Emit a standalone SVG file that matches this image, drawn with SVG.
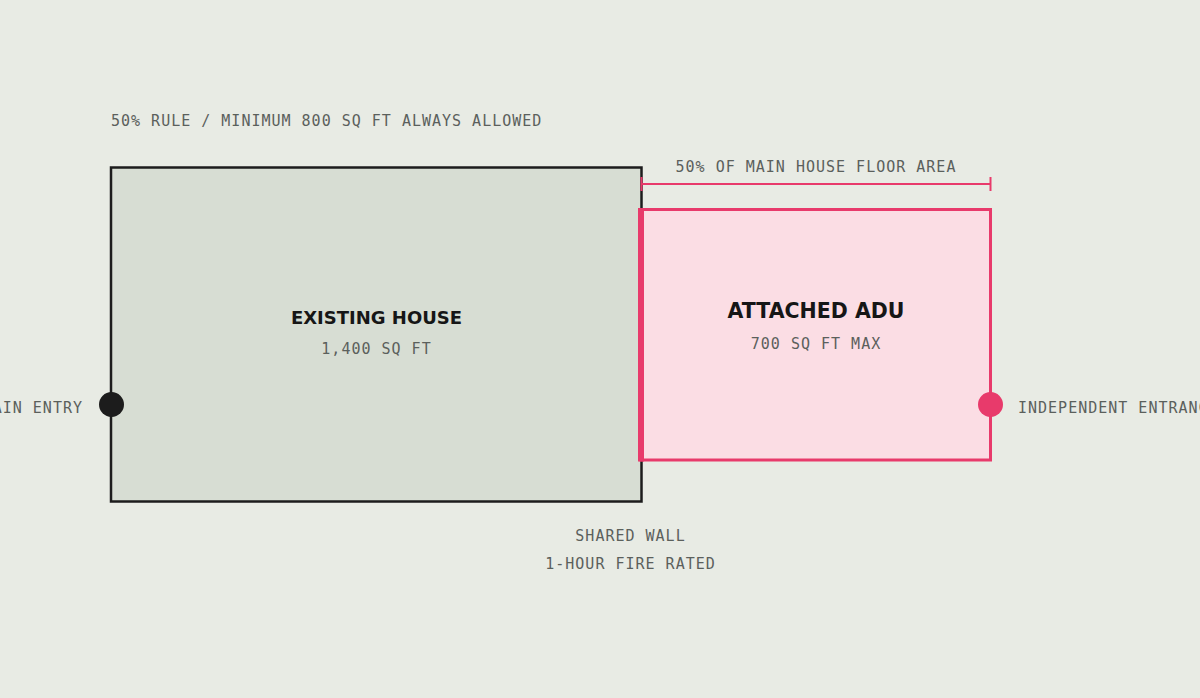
<svg xmlns="http://www.w3.org/2000/svg" width="1200" height="698" viewBox="0 0 1200 698">
<style>
.mono{font-family:"DejaVu Sans Mono","Liberation Mono",monospace;font-size:15px;letter-spacing:1px;fill:#5b605c}
.title{font-family:"DejaVu Sans","Liberation Sans",sans-serif;font-weight:bold;fill:#161616}
</style>
<rect width="1200" height="698" fill="#e8ebe4"/>
<text class="mono" x="111" y="126" letter-spacing="0.97">50% RULE / MINIMUM 800 SQ FT ALWAYS ALLOWED</text>
<g id="house">
<rect x="111" y="167.5" width="530.5" height="334" fill="#d7ddd3" stroke="#1c1c1c" stroke-width="2.5"/>
<text class="title" x="376.5" y="324" font-size="18" text-anchor="middle">EXISTING HOUSE</text>
<text class="mono" x="376.5" y="354" text-anchor="middle">1,400 SQ FT</text>
</g>
<g id="adu">
<rect x="641" y="209.5" width="349.5" height="250.5" fill="#fbdde4" stroke="#e83a6b" stroke-width="3"/>
<line x1="641" y1="208" x2="641" y2="461.5" stroke="#e83a6b" stroke-width="6"/>
<text class="title" x="816" y="318" font-size="20.5" text-anchor="middle">ATTACHED ADU</text>
<text class="mono" x="816" y="349" text-anchor="middle">700 SQ FT MAX</text>
</g>
<g id="dimension">
<line x1="641" y1="184" x2="990.5" y2="184" stroke="#e83a6b" stroke-width="2"/>
<line x1="641.5" y1="177" x2="641.5" y2="191" stroke="#e83a6b" stroke-width="2"/>
<line x1="990.5" y1="177" x2="990.5" y2="191" stroke="#e83a6b" stroke-width="2"/>
<text class="mono" x="816" y="172" text-anchor="middle">50% OF MAIN HOUSE FLOOR AREA</text>
</g>
<g id="main-entry">
<circle cx="111.5" cy="404.5" r="12.5" fill="#1c1c1c"/>
<text class="mono" x="83" y="413" text-anchor="end">MAIN ENTRY</text>
</g>
<g id="independent-entrance">
<circle cx="990.5" cy="404.5" r="12.5" fill="#e83a6b"/>
<text class="mono" x="1018" y="413" letter-spacing="0.8">INDEPENDENT ENTRANCE</text>
</g>
<g id="shared-wall">
<text class="mono" x="630.5" y="541" text-anchor="middle">SHARED WALL</text>
<text class="mono" x="630.5" y="569" text-anchor="middle">1-HOUR FIRE RATED</text>
</g>
</svg>
